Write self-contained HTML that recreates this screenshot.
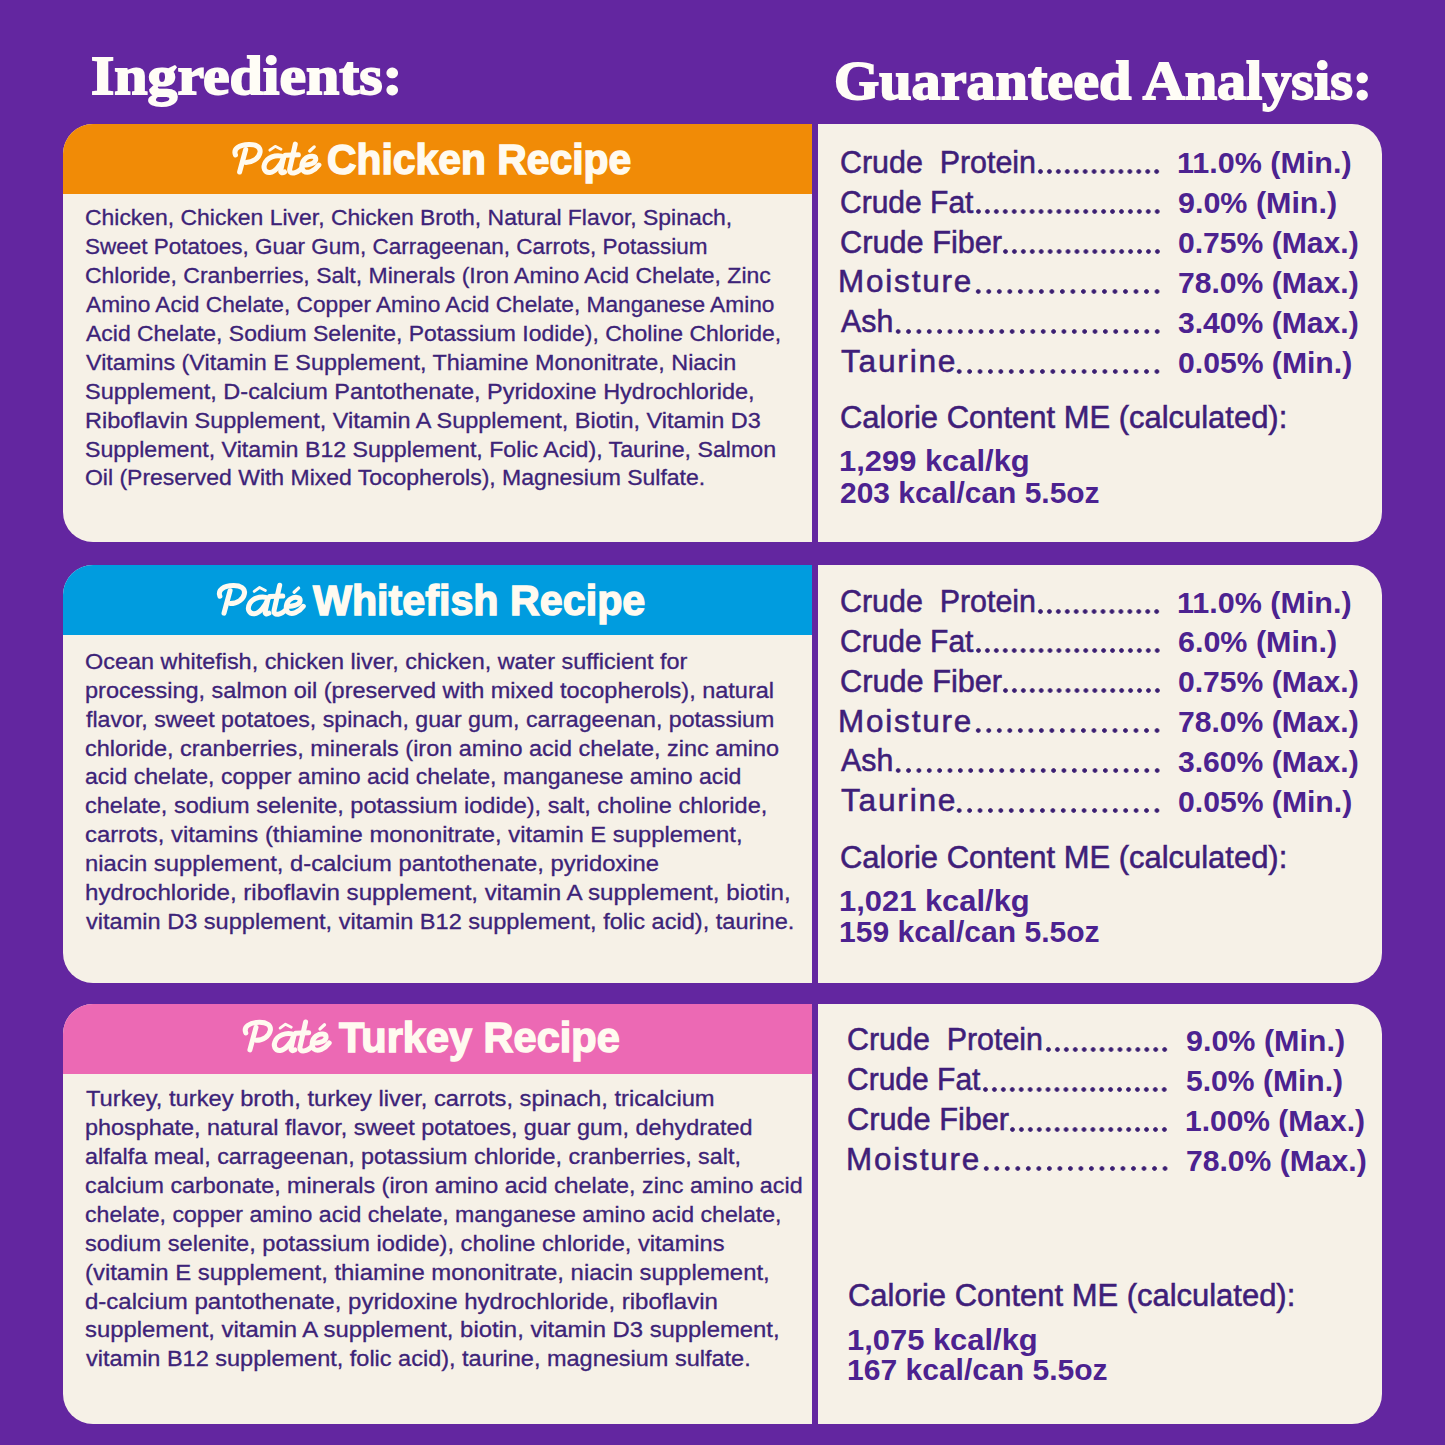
<!DOCTYPE html><html><head><meta charset="utf-8"><style>html,body{margin:0;padding:0}
body{width:1445px;height:1445px;background:#6326a0;position:relative;overflow:hidden}
.lc{position:absolute;left:63px;width:749px;background:#f6f1e7;border-radius:30px 0 0 30px;overflow:hidden}
.hd{position:absolute;left:0;top:0;right:0;height:70.3px}
.rc{position:absolute;left:817.8px;width:564.6px;background:#f6f1e7;border-radius:0 30px 30px 0}
.t{position:absolute;white-space:pre;line-height:1;transform-origin:0 0}
.dots{position:absolute;height:9px;background:radial-gradient(circle at 50% 50%, #3b1f72 1.9px, rgba(59,31,114,0) 2.7px);background-size:8.95px 9px;background-repeat:repeat-x}
</style></head><body>
<div class="lc" style="top:123.5px;height:418.8px"><div class="hd" style="background:#f18b06"></div></div>
<div class="rc" style="top:123.5px;height:418.8px"></div>
<div class="lc" style="top:564.7px;height:418.8px"><div class="hd" style="background:#009cdf"></div></div>
<div class="rc" style="top:564.7px;height:418.8px"></div>
<div class="lc" style="top:1003.7px;height:420.3px"><div class="hd" style="background:#ec69b4"></div></div>
<div class="rc" style="top:1003.7px;height:420.3px"></div>
<div class="dots" style="left:1036.31px;top:167.30px;width:125.16px;background-size:8.94px 9px"></div>
<div class="dots" style="left:973.73px;top:207.15px;width:187.74px;background-size:8.94px 9px"></div>
<div class="dots" style="left:1000.55px;top:247.00px;width:160.92px;background-size:8.94px 9px"></div>
<div class="dots" style="left:972.90px;top:286.85px;width:189.36px;background-size:10.52px 9px"></div>
<div class="dots" style="left:892.82px;top:326.70px;width:269.36px;background-size:10.36px 9px"></div>
<div class="dots" style="left:953.81px;top:366.55px;width:208.40px;background-size:10.42px 9px"></div>
<div class="dots" style="left:1036.31px;top:606.50px;width:125.16px;background-size:8.94px 9px"></div>
<div class="dots" style="left:973.73px;top:646.35px;width:187.74px;background-size:8.94px 9px"></div>
<div class="dots" style="left:1000.55px;top:686.20px;width:160.92px;background-size:8.94px 9px"></div>
<div class="dots" style="left:972.90px;top:726.05px;width:189.36px;background-size:10.52px 9px"></div>
<div class="dots" style="left:892.82px;top:765.90px;width:269.36px;background-size:10.36px 9px"></div>
<div class="dots" style="left:953.81px;top:805.75px;width:208.40px;background-size:10.42px 9px"></div>
<div class="dots" style="left:1044.01px;top:1044.90px;width:125.16px;background-size:8.94px 9px"></div>
<div class="dots" style="left:981.43px;top:1084.75px;width:187.74px;background-size:8.94px 9px"></div>
<div class="dots" style="left:1008.25px;top:1124.60px;width:160.92px;background-size:8.94px 9px"></div>
<div class="dots" style="left:980.60px;top:1164.45px;width:189.36px;background-size:10.52px 9px"></div>
<div class="t" style="left:90.71px;top:47.95px;font-family:'Liberation Serif';font-size:55px;font-weight:bold;font-style:normal;color:#fffdf6;-webkit-text-stroke:1.8px #fffdf6;transform:scaleX(1.0883)">Ingredients:</div>
<div class="t" style="left:833.68px;top:53.35px;font-family:'Liberation Serif';font-size:55px;font-weight:bold;font-style:normal;color:#fffdf6;-webkit-text-stroke:1.8px #fffdf6;transform:scaleX(1.0577)">Guaranteed Analysis:</div>
<div class="t" style="left:327.05px;top:137.75px;font-family:'Liberation Sans';font-size:43px;font-weight:bold;font-style:normal;color:#fffaf0;-webkit-text-stroke:1.5px #fffaf0;transform:scaleX(0.9498)">Chicken Recipe</div>
<div class="t" style="left:84.92px;top:208.40px;font-family:'Liberation Sans';font-size:21.3px;font-weight:normal;font-style:normal;color:#3d2378;-webkit-text-stroke:0.3px #3d2378;transform:scaleX(1.0763)">Chicken, Chicken Liver, Chicken Broth, Natural Flavor, Spinach,</div>
<div class="t" style="left:84.94px;top:237.28px;font-family:'Liberation Sans';font-size:21.3px;font-weight:normal;font-style:normal;color:#3d2378;-webkit-text-stroke:0.3px #3d2378;transform:scaleX(1.0561)">Sweet Potatoes, Guar Gum, Carrageenan, Carrots, Potassium</div>
<div class="t" style="left:84.92px;top:266.17px;font-family:'Liberation Sans';font-size:21.3px;font-weight:normal;font-style:normal;color:#3d2378;-webkit-text-stroke:0.3px #3d2378;transform:scaleX(1.0789)">Chloride, Cranberries, Salt, Minerals (Iron Amino Acid Chelate, Zinc</div>
<div class="t" style="left:86.00px;top:295.06px;font-family:'Liberation Sans';font-size:21.3px;font-weight:normal;font-style:normal;color:#3d2378;-webkit-text-stroke:0.3px #3d2378;transform:scaleX(1.0650)">Amino Acid Chelate, Copper Amino Acid Chelate, Manganese Amino</div>
<div class="t" style="left:86.00px;top:323.95px;font-family:'Liberation Sans';font-size:21.3px;font-weight:normal;font-style:normal;color:#3d2378;-webkit-text-stroke:0.3px #3d2378;transform:scaleX(1.0776)">Acid Chelate, Sodium Selenite, Potassium Iodide), Choline Chloride,</div>
<div class="t" style="left:86.00px;top:352.84px;font-family:'Liberation Sans';font-size:21.3px;font-weight:normal;font-style:normal;color:#3d2378;-webkit-text-stroke:0.3px #3d2378;transform:scaleX(1.0963)">Vitamins (Vitamin E Supplement, Thiamine Mononitrate, Niacin</div>
<div class="t" style="left:84.90px;top:381.74px;font-family:'Liberation Sans';font-size:21.3px;font-weight:normal;font-style:normal;color:#3d2378;-webkit-text-stroke:0.3px #3d2378;transform:scaleX(1.1025)">Supplement, D-calcium Pantothenate, Pyridoxine Hydrochloride,</div>
<div class="t" style="left:84.90px;top:410.62px;font-family:'Liberation Sans';font-size:21.3px;font-weight:normal;font-style:normal;color:#3d2378;-webkit-text-stroke:0.3px #3d2378;transform:scaleX(1.1013)">Riboflavin Supplement, Vitamin A Supplement, Biotin, Vitamin D3</div>
<div class="t" style="left:84.91px;top:439.51px;font-family:'Liberation Sans';font-size:21.3px;font-weight:normal;font-style:normal;color:#3d2378;-webkit-text-stroke:0.3px #3d2378;transform:scaleX(1.0885)">Supplement, Vitamin B12 Supplement, Folic Acid), Taurine, Salmon</div>
<div class="t" style="left:84.92px;top:468.40px;font-family:'Liberation Sans';font-size:21.3px;font-weight:normal;font-style:normal;color:#3d2378;-webkit-text-stroke:0.3px #3d2378;transform:scaleX(1.0787)">Oil (Preserved With Mixed Tocopherols), Magnesium Sulfate.</div>
<div class="t" style="left:313.16px;top:578.95px;font-family:'Liberation Sans';font-size:43px;font-weight:bold;font-style:normal;color:#fffaf0;-webkit-text-stroke:1.5px #fffaf0;transform:scaleX(0.9591)">Whitefish Recipe</div>
<div class="t" style="left:84.90px;top:651.89px;font-family:'Liberation Sans';font-size:21.3px;font-weight:normal;font-style:normal;color:#3d2378;-webkit-text-stroke:0.3px #3d2378;transform:scaleX(1.0998)">Ocean whitefish, chicken liver, chicken, water sufficient for</div>
<div class="t" style="left:84.90px;top:680.78px;font-family:'Liberation Sans';font-size:21.3px;font-weight:normal;font-style:normal;color:#3d2378;-webkit-text-stroke:0.3px #3d2378;transform:scaleX(1.1024)">processing, salmon oil (preserved with mixed tocopherols), natural</div>
<div class="t" style="left:86.00px;top:709.67px;font-family:'Liberation Sans';font-size:21.3px;font-weight:normal;font-style:normal;color:#3d2378;-webkit-text-stroke:0.3px #3d2378;transform:scaleX(1.0867)">flavor, sweet potatoes, spinach, guar gum, carrageenan, potassium</div>
<div class="t" style="left:84.90px;top:738.56px;font-family:'Liberation Sans';font-size:21.3px;font-weight:normal;font-style:normal;color:#3d2378;-webkit-text-stroke:0.3px #3d2378;transform:scaleX(1.1002)">chloride, cranberries, minerals (iron amino acid chelate, zinc amino</div>
<div class="t" style="left:84.92px;top:767.45px;font-family:'Liberation Sans';font-size:21.3px;font-weight:normal;font-style:normal;color:#3d2378;-webkit-text-stroke:0.3px #3d2378;transform:scaleX(1.0828)">acid chelate, copper amino acid chelate, manganese amino acid</div>
<div class="t" style="left:84.90px;top:796.35px;font-family:'Liberation Sans';font-size:21.3px;font-weight:normal;font-style:normal;color:#3d2378;-webkit-text-stroke:0.3px #3d2378;transform:scaleX(1.1041)">chelate, sodium selenite, potassium iodide), salt, choline chloride,</div>
<div class="t" style="left:84.88px;top:825.24px;font-family:'Liberation Sans';font-size:21.3px;font-weight:normal;font-style:normal;color:#3d2378;-webkit-text-stroke:0.3px #3d2378;transform:scaleX(1.1177)">carrots, vitamins (thiamine mononitrate, vitamin E supplement,</div>
<div class="t" style="left:84.88px;top:854.12px;font-family:'Liberation Sans';font-size:21.3px;font-weight:normal;font-style:normal;color:#3d2378;-webkit-text-stroke:0.3px #3d2378;transform:scaleX(1.1172)">niacin supplement, d-calcium pantothenate, pyridoxine</div>
<div class="t" style="left:84.87px;top:883.01px;font-family:'Liberation Sans';font-size:21.3px;font-weight:normal;font-style:normal;color:#3d2378;-webkit-text-stroke:0.3px #3d2378;transform:scaleX(1.1332)">hydrochloride, riboflavin supplement, vitamin A supplement, biotin,</div>
<div class="t" style="left:86.00px;top:911.90px;font-family:'Liberation Sans';font-size:21.3px;font-weight:normal;font-style:normal;color:#3d2378;-webkit-text-stroke:0.3px #3d2378;transform:scaleX(1.1061)">vitamin D3 supplement, vitamin B12 supplement, folic acid), taurine.</div>
<div class="t" style="left:339.30px;top:1015.65px;font-family:'Liberation Sans';font-size:43px;font-weight:bold;font-style:normal;color:#fffaf0;-webkit-text-stroke:1.5px #fffaf0;transform:scaleX(0.9655)">Turkey Recipe</div>
<div class="t" style="left:86.00px;top:1089.30px;font-family:'Liberation Sans';font-size:21.3px;font-weight:normal;font-style:normal;color:#3d2378;-webkit-text-stroke:0.3px #3d2378;transform:scaleX(1.1135)">Turkey, turkey broth, turkey liver, carrots, spinach, tricalcium</div>
<div class="t" style="left:84.90px;top:1118.19px;font-family:'Liberation Sans';font-size:21.3px;font-weight:normal;font-style:normal;color:#3d2378;-webkit-text-stroke:0.3px #3d2378;transform:scaleX(1.0967)">phosphate, natural flavor, sweet potatoes, guar gum, dehydrated</div>
<div class="t" style="left:84.91px;top:1147.08px;font-family:'Liberation Sans';font-size:21.3px;font-weight:normal;font-style:normal;color:#3d2378;-webkit-text-stroke:0.3px #3d2378;transform:scaleX(1.0950)">alfalfa meal, carrageenan, potassium chloride, cranberries, salt,</div>
<div class="t" style="left:84.91px;top:1175.97px;font-family:'Liberation Sans';font-size:21.3px;font-weight:normal;font-style:normal;color:#3d2378;-webkit-text-stroke:0.3px #3d2378;transform:scaleX(1.0943)">calcium carbonate, minerals (iron amino acid chelate, zinc amino acid</div>
<div class="t" style="left:84.91px;top:1204.86px;font-family:'Liberation Sans';font-size:21.3px;font-weight:normal;font-style:normal;color:#3d2378;-webkit-text-stroke:0.3px #3d2378;transform:scaleX(1.0854)">chelate, copper amino acid chelate, manganese amino acid chelate,</div>
<div class="t" style="left:84.89px;top:1233.75px;font-family:'Liberation Sans';font-size:21.3px;font-weight:normal;font-style:normal;color:#3d2378;-webkit-text-stroke:0.3px #3d2378;transform:scaleX(1.1094)">sodium selenite, potassium iodide), choline chloride, vitamins</div>
<div class="t" style="left:84.88px;top:1262.63px;font-family:'Liberation Sans';font-size:21.3px;font-weight:normal;font-style:normal;color:#3d2378;-webkit-text-stroke:0.3px #3d2378;transform:scaleX(1.1209)">(vitamin E supplement, thiamine mononitrate, niacin supplement,</div>
<div class="t" style="left:84.87px;top:1291.53px;font-family:'Liberation Sans';font-size:21.3px;font-weight:normal;font-style:normal;color:#3d2378;-webkit-text-stroke:0.3px #3d2378;transform:scaleX(1.1279)">d-calcium pantothenate, pyridoxine hydrochloride, riboflavin</div>
<div class="t" style="left:84.88px;top:1320.41px;font-family:'Liberation Sans';font-size:21.3px;font-weight:normal;font-style:normal;color:#3d2378;-webkit-text-stroke:0.3px #3d2378;transform:scaleX(1.1197)">supplement, vitamin A supplement, biotin, vitamin D3 supplement,</div>
<div class="t" style="left:86.00px;top:1349.31px;font-family:'Liberation Sans';font-size:21.3px;font-weight:normal;font-style:normal;color:#3d2378;-webkit-text-stroke:0.3px #3d2378;transform:scaleX(1.1032)">vitamin B12 supplement, folic acid), taurine, magnesium sulfate.</div>
<div class="t" style="left:839.51px;top:147.82px;font-family:'Liberation Sans';font-size:30.8px;font-weight:normal;font-style:normal;color:#3f1e79;-webkit-text-stroke:0.55px #3f1e79;transform:scaleX(0.9872)">Crude  Protein</div>
<div class="t" style="left:1177.40px;top:149.35px;font-family:'Liberation Sans';font-size:29px;font-weight:bold;font-style:normal;color:#4c2290;transform:scaleX(1.0521)">11.0% (Min.)</div>
<div class="t" style="left:839.53px;top:187.67px;font-family:'Liberation Sans';font-size:30.8px;font-weight:normal;font-style:normal;color:#3f1e79;-webkit-text-stroke:0.55px #3f1e79;transform:scaleX(0.9743)">Crude Fat</div>
<div class="t" style="left:1178.45px;top:189.20px;font-family:'Liberation Sans';font-size:29px;font-weight:bold;font-style:normal;color:#4c2290;transform:scaleX(1.0503)">9.0% (Min.)</div>
<div class="t" style="left:839.50px;top:227.52px;font-family:'Liberation Sans';font-size:30.8px;font-weight:normal;font-style:normal;color:#3f1e79;-webkit-text-stroke:0.55px #3f1e79;transform:scaleX(0.9969)">Crude Fiber</div>
<div class="t" style="left:1178.46px;top:229.05px;font-family:'Liberation Sans';font-size:29px;font-weight:bold;font-style:normal;color:#4c2290;transform:scaleX(1.0378)">0.75% (Max.)</div>
<div class="t" style="left:838.46px;top:267.37px;font-family:'Liberation Sans';font-size:30.8px;font-weight:normal;font-style:normal;color:#3f1e79;letter-spacing:1.8px;-webkit-text-stroke:0.55px #3f1e79;transform:scaleX(1.0195)">Moisture</div>
<div class="t" style="left:1178.46px;top:268.90px;font-family:'Liberation Sans';font-size:29px;font-weight:bold;font-style:normal;color:#4c2290;transform:scaleX(1.0378)">78.0% (Max.)</div>
<div class="t" style="left:840.50px;top:307.22px;font-family:'Liberation Sans';font-size:30.8px;font-weight:normal;font-style:normal;color:#3f1e79;-webkit-text-stroke:0.55px #3f1e79;transform:scaleX(0.9846)">Ash</div>
<div class="t" style="left:1178.46px;top:308.75px;font-family:'Liberation Sans';font-size:29px;font-weight:bold;font-style:normal;color:#4c2290;transform:scaleX(1.0378)">3.40% (Max.)</div>
<div class="t" style="left:840.50px;top:347.07px;font-family:'Liberation Sans';font-size:30.8px;font-weight:normal;font-style:normal;color:#3f1e79;letter-spacing:1.7px;-webkit-text-stroke:0.55px #3f1e79;transform:scaleX(1.0291)">Taurine</div>
<div class="t" style="left:1178.46px;top:348.60px;font-family:'Liberation Sans';font-size:29px;font-weight:bold;font-style:normal;color:#4c2290;transform:scaleX(1.0394)">0.05% (Min.)</div>
<div class="t" style="left:839.80px;top:403.02px;font-family:'Liberation Sans';font-size:30.8px;font-weight:normal;font-style:normal;color:#3f1e79;-webkit-text-stroke:0.55px #3f1e79;transform:scaleX(1.0050)">Calorie Content ME (calculated):</div>
<div class="t" style="left:838.87px;top:447.35px;font-family:'Liberation Sans';font-size:29px;font-weight:bold;font-style:normal;color:#4c2290;transform:scaleX(1.0657)">1,299 kcal/kg</div>
<div class="t" style="left:839.97px;top:478.95px;font-family:'Liberation Sans';font-size:29px;font-weight:bold;font-style:normal;color:#4c2290;transform:scaleX(1.0320)">203 kcal/can 5.5oz</div>
<div class="t" style="left:839.51px;top:587.02px;font-family:'Liberation Sans';font-size:30.8px;font-weight:normal;font-style:normal;color:#3f1e79;-webkit-text-stroke:0.55px #3f1e79;transform:scaleX(0.9872)">Crude  Protein</div>
<div class="t" style="left:1177.40px;top:588.55px;font-family:'Liberation Sans';font-size:29px;font-weight:bold;font-style:normal;color:#4c2290;transform:scaleX(1.0521)">11.0% (Min.)</div>
<div class="t" style="left:839.53px;top:626.87px;font-family:'Liberation Sans';font-size:30.8px;font-weight:normal;font-style:normal;color:#3f1e79;-webkit-text-stroke:0.55px #3f1e79;transform:scaleX(0.9743)">Crude Fat</div>
<div class="t" style="left:1178.45px;top:628.40px;font-family:'Liberation Sans';font-size:29px;font-weight:bold;font-style:normal;color:#4c2290;transform:scaleX(1.0503)">6.0% (Min.)</div>
<div class="t" style="left:839.50px;top:666.72px;font-family:'Liberation Sans';font-size:30.8px;font-weight:normal;font-style:normal;color:#3f1e79;-webkit-text-stroke:0.55px #3f1e79;transform:scaleX(0.9969)">Crude Fiber</div>
<div class="t" style="left:1178.46px;top:668.25px;font-family:'Liberation Sans';font-size:29px;font-weight:bold;font-style:normal;color:#4c2290;transform:scaleX(1.0378)">0.75% (Max.)</div>
<div class="t" style="left:838.46px;top:706.57px;font-family:'Liberation Sans';font-size:30.8px;font-weight:normal;font-style:normal;color:#3f1e79;letter-spacing:1.8px;-webkit-text-stroke:0.55px #3f1e79;transform:scaleX(1.0195)">Moisture</div>
<div class="t" style="left:1178.46px;top:708.10px;font-family:'Liberation Sans';font-size:29px;font-weight:bold;font-style:normal;color:#4c2290;transform:scaleX(1.0378)">78.0% (Max.)</div>
<div class="t" style="left:840.50px;top:746.42px;font-family:'Liberation Sans';font-size:30.8px;font-weight:normal;font-style:normal;color:#3f1e79;-webkit-text-stroke:0.55px #3f1e79;transform:scaleX(0.9846)">Ash</div>
<div class="t" style="left:1178.46px;top:747.95px;font-family:'Liberation Sans';font-size:29px;font-weight:bold;font-style:normal;color:#4c2290;transform:scaleX(1.0378)">3.60% (Max.)</div>
<div class="t" style="left:840.50px;top:786.27px;font-family:'Liberation Sans';font-size:30.8px;font-weight:normal;font-style:normal;color:#3f1e79;letter-spacing:1.7px;-webkit-text-stroke:0.55px #3f1e79;transform:scaleX(1.0291)">Taurine</div>
<div class="t" style="left:1178.46px;top:787.80px;font-family:'Liberation Sans';font-size:29px;font-weight:bold;font-style:normal;color:#4c2290;transform:scaleX(1.0394)">0.05% (Min.)</div>
<div class="t" style="left:839.80px;top:842.62px;font-family:'Liberation Sans';font-size:30.8px;font-weight:normal;font-style:normal;color:#3f1e79;-webkit-text-stroke:0.55px #3f1e79;transform:scaleX(1.0050)">Calorie Content ME (calculated):</div>
<div class="t" style="left:838.87px;top:886.75px;font-family:'Liberation Sans';font-size:29px;font-weight:bold;font-style:normal;color:#4c2290;transform:scaleX(1.0657)">1,021 kcal/kg</div>
<div class="t" style="left:838.93px;top:917.95px;font-family:'Liberation Sans';font-size:29px;font-weight:bold;font-style:normal;color:#4c2290;transform:scaleX(1.0361)">159 kcal/can 5.5oz</div>
<div class="t" style="left:847.21px;top:1025.42px;font-family:'Liberation Sans';font-size:30.8px;font-weight:normal;font-style:normal;color:#3f1e79;-webkit-text-stroke:0.55px #3f1e79;transform:scaleX(0.9872)">Crude  Protein</div>
<div class="t" style="left:1186.15px;top:1026.95px;font-family:'Liberation Sans';font-size:29px;font-weight:bold;font-style:normal;color:#4c2290;transform:scaleX(1.0503)">9.0% (Min.)</div>
<div class="t" style="left:847.23px;top:1065.27px;font-family:'Liberation Sans';font-size:30.8px;font-weight:normal;font-style:normal;color:#3f1e79;-webkit-text-stroke:0.55px #3f1e79;transform:scaleX(0.9743)">Crude Fat</div>
<div class="t" style="left:1186.16px;top:1066.80px;font-family:'Liberation Sans';font-size:29px;font-weight:bold;font-style:normal;color:#4c2290;transform:scaleX(1.0369)">5.0% (Min.)</div>
<div class="t" style="left:847.20px;top:1105.12px;font-family:'Liberation Sans';font-size:30.8px;font-weight:normal;font-style:normal;color:#3f1e79;-webkit-text-stroke:0.55px #3f1e79;transform:scaleX(0.9969)">Crude Fiber</div>
<div class="t" style="left:1185.13px;top:1106.65px;font-family:'Liberation Sans';font-size:29px;font-weight:bold;font-style:normal;color:#4c2290;transform:scaleX(1.0339)">1.00% (Max.)</div>
<div class="t" style="left:846.16px;top:1144.97px;font-family:'Liberation Sans';font-size:30.8px;font-weight:normal;font-style:normal;color:#3f1e79;letter-spacing:1.8px;-webkit-text-stroke:0.55px #3f1e79;transform:scaleX(1.0195)">Moisture</div>
<div class="t" style="left:1186.16px;top:1146.50px;font-family:'Liberation Sans';font-size:29px;font-weight:bold;font-style:normal;color:#4c2290;transform:scaleX(1.0378)">78.0% (Max.)</div>
<div class="t" style="left:847.50px;top:1280.62px;font-family:'Liberation Sans';font-size:30.8px;font-weight:normal;font-style:normal;color:#3f1e79;-webkit-text-stroke:0.55px #3f1e79;transform:scaleX(1.0050)">Calorie Content ME (calculated):</div>
<div class="t" style="left:846.57px;top:1325.75px;font-family:'Liberation Sans';font-size:29px;font-weight:bold;font-style:normal;color:#4c2290;transform:scaleX(1.0657)">1,075 kcal/kg</div>
<div class="t" style="left:846.63px;top:1356.15px;font-family:'Liberation Sans';font-size:29px;font-weight:bold;font-style:normal;color:#4c2290;transform:scaleX(1.0361)">167 kcal/can 5.5oz</div>
<svg width="1445" height="1445" style="position:absolute;left:0;top:0" fill="none" stroke="#fffaf0" stroke-width="5.0" stroke-linecap="round" stroke-linejoin="round"><g transform="translate(0 0)"><path d="M235.5 155 C233 149 239 144.5 249 144.4 C256 144.3 261 147 260 152.5 C259 158 253 162.4 246 162.4"/>
<path d="M245.7 149.5 L239.6 172"/>
<path d="M283.7 157.4 C280 154.5 270 155 265.5 162 C262 168 265 173 270 172.5 C275 172 281 165 283.7 157.4"/>
<path d="M283.7 157 L280.8 170 C280.3 172.5 282 173.5 284.5 172"/>
<path d="M269.8 150.2 L275.2 146.3 L281 149.3" stroke-width="2.8"/>
<path d="M295.3 144.1 L289.8 168.5 C289 172 291 173.5 294 173 C297 172.5 300 170 302 168"/>
<path d="M285.3 155.3 L298.4 154.8"/>
<path d="M303.4 164.6 C305.6 165.7 315.8 164.3 315.8 159 C315.8 155.7 310.3 155.2 306.1 157.9 C301.2 161.5 300.6 168.5 303.9 171.2 C307.5 174 314.4 171.2 318.9 165.1"/>
<path d="M309.7 151 L314.2 146.9" stroke-width="3.3"/></g><g transform="translate(-15.6 441.2)"><path d="M235.5 155 C233 149 239 144.5 249 144.4 C256 144.3 261 147 260 152.5 C259 158 253 162.4 246 162.4"/>
<path d="M245.7 149.5 L239.6 172"/>
<path d="M283.7 157.4 C280 154.5 270 155 265.5 162 C262 168 265 173 270 172.5 C275 172 281 165 283.7 157.4"/>
<path d="M283.7 157 L280.8 170 C280.3 172.5 282 173.5 284.5 172"/>
<path d="M269.8 150.2 L275.2 146.3 L281 149.3" stroke-width="2.8"/>
<path d="M295.3 144.1 L289.8 168.5 C289 172 291 173.5 294 173 C297 172.5 300 170 302 168"/>
<path d="M285.3 155.3 L298.4 154.8"/>
<path d="M303.4 164.6 C305.6 165.7 315.8 164.3 315.8 159 C315.8 155.7 310.3 155.2 306.1 157.9 C301.2 161.5 300.6 168.5 303.9 171.2 C307.5 174 314.4 171.2 318.9 165.1"/>
<path d="M309.7 151 L314.2 146.9" stroke-width="3.3"/></g><g transform="translate(10.3 877.9)"><path d="M235.5 155 C233 149 239 144.5 249 144.4 C256 144.3 261 147 260 152.5 C259 158 253 162.4 246 162.4"/>
<path d="M245.7 149.5 L239.6 172"/>
<path d="M283.7 157.4 C280 154.5 270 155 265.5 162 C262 168 265 173 270 172.5 C275 172 281 165 283.7 157.4"/>
<path d="M283.7 157 L280.8 170 C280.3 172.5 282 173.5 284.5 172"/>
<path d="M269.8 150.2 L275.2 146.3 L281 149.3" stroke-width="2.8"/>
<path d="M295.3 144.1 L289.8 168.5 C289 172 291 173.5 294 173 C297 172.5 300 170 302 168"/>
<path d="M285.3 155.3 L298.4 154.8"/>
<path d="M303.4 164.6 C305.6 165.7 315.8 164.3 315.8 159 C315.8 155.7 310.3 155.2 306.1 157.9 C301.2 161.5 300.6 168.5 303.9 171.2 C307.5 174 314.4 171.2 318.9 165.1"/>
<path d="M309.7 151 L314.2 146.9" stroke-width="3.3"/></g></svg>
</body></html>
